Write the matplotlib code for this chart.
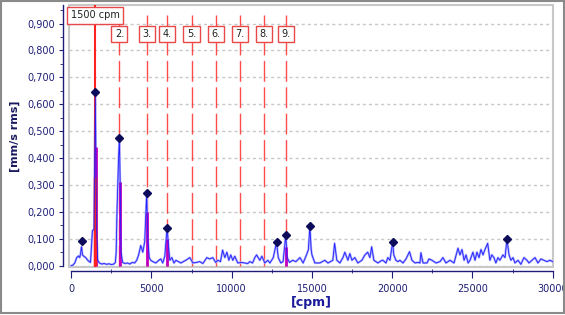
import numpy as np
import matplotlib
matplotlib.use("Agg")
import matplotlib.pyplot as plt
from matplotlib.patches import Rectangle
from matplotlib.ticker import MultipleLocator, FuncFormatter

# spectrum (cpm, mm/s rms)
freq_cpm = [0, 100, 220, 340, 450, 530, 580, 640, 700, 780, 900, 1030, 1120, 1200, 1320,
            1420, 1500, 1580, 1650, 1750, 1900, 2050, 2200, 2350, 2500, 2650, 2750, 2800,
            2850, 2950, 3000, 3050, 3100, 3200, 3350, 3500, 3650, 3800, 3950, 4080, 4200,
            4330, 4460, 4580, 4700, 4770, 4860, 4950, 5080, 5270, 5460, 5580, 5700, 5830,
            5973, 6050, 6140, 6270, 6400, 6520, 6830, 7140, 7390, 7580, 7800, 8010, 8200,
            8450, 8630, 8820, 9000, 9130, 9300, 9430, 9570, 9700, 9820, 9940, 10070, 10190,
            10380, 10600, 10820, 11000, 11130, 11300, 11440, 11550, 11750, 11880, 12060,
            12250, 12380, 12590, 12793, 12900, 13060, 13200, 13370, 13450, 13600, 13800,
            14000, 14250, 14450, 14660, 14780, 14870, 14950, 15000, 15180, 15490, 15800,
            16000, 16300, 16410, 16550, 16740, 16930, 17050, 17240, 17360, 17490, 17670,
            17860, 18110, 18300, 18470, 18610, 18720, 18860, 19110, 19360, 19420, 19610,
            19730, 19860, 20025, 20100, 20230, 20350, 20480, 20670, 20860, 21080, 21230,
            21420, 21600, 21730, 21790, 21920, 22170, 22290, 22480, 22730, 22980, 23160,
            23350, 23600, 23850, 24100, 24220, 24350, 24480, 24600, 24730, 24850, 25030,
            25160, 25280, 25410, 25530, 25660, 25780, 25950, 26090, 26210, 26340, 26460,
            26590, 26710, 26900, 27030, 27151, 27280, 27400, 27530, 27650, 27840, 28020,
            28210, 28400, 28520, 28710, 28900, 29080, 29270, 29460, 29640, 29830, 30000]
amp_mm_s = [0.000, 0.002, 0.010, 0.030, 0.036, 0.030, 0.045, 0.070, 0.040, 0.035, 0.030,
            0.020, 0.015, 0.012, 0.130, 0.135, 0.647, 0.130, 0.020, 0.010, 0.006, 0.008,
            0.005, 0.007, 0.004, 0.006, 0.012, 0.050, 0.200, 0.400, 0.474, 0.300, 0.050,
            0.012, 0.008, 0.010, 0.006, 0.012, 0.010, 0.020, 0.040, 0.075, 0.050, 0.090,
            0.269, 0.100, 0.030, 0.020, 0.015, 0.010, 0.020, 0.025, 0.010, 0.035, 0.141,
            0.080, 0.020, 0.030, 0.010, 0.020, 0.010, 0.020, 0.030, 0.010, 0.012, 0.015,
            0.008, 0.030, 0.025, 0.030, 0.012, 0.020, 0.015, 0.058, 0.030, 0.050, 0.020,
            0.040, 0.020, 0.035, 0.010, 0.012, 0.010, 0.008, 0.015, 0.010, 0.030, 0.040,
            0.020, 0.035, 0.010, 0.020, 0.010, 0.030, 0.087, 0.030, 0.010, 0.015, 0.113,
            0.030, 0.012, 0.020, 0.015, 0.030, 0.010, 0.040, 0.060, 0.148, 0.060, 0.040,
            0.010, 0.010, 0.020, 0.010, 0.020, 0.083, 0.020, 0.010, 0.030, 0.050, 0.020,
            0.045, 0.020, 0.030, 0.010, 0.020, 0.040, 0.050, 0.030, 0.070, 0.020, 0.010,
            0.020, 0.020, 0.010, 0.030, 0.020, 0.087, 0.040, 0.020, 0.015, 0.020, 0.010,
            0.025, 0.052, 0.020, 0.010, 0.012, 0.010, 0.048, 0.010, 0.010, 0.025, 0.020,
            0.010, 0.015, 0.030, 0.010, 0.020, 0.010, 0.065, 0.040, 0.060, 0.020, 0.040,
            0.010, 0.020, 0.050, 0.020, 0.050, 0.030, 0.060, 0.040, 0.060, 0.083, 0.020,
            0.040, 0.030, 0.010, 0.030, 0.020, 0.040, 0.030, 0.099, 0.040, 0.020, 0.030,
            0.010, 0.020, 0.005, 0.030, 0.020, 0.010, 0.020, 0.030, 0.010, 0.025, 0.020,
            0.015, 0.020, 0.015]

# marked peaks
peak_cpm = [640, 1500, 3000, 4700, 5973, 12793, 13370, 14870, 20025, 27151]
peak_amp = [0.092, 0.647, 0.474, 0.269, 0.141, 0.087, 0.113, 0.148, 0.087, 0.099]

# overlaid order bars
order_cpm = [1520, 3030, 4700, 5973, 13400]
order_amp = [0.44, 0.31, 0.20, 0.10, 0.07]

# harmonic cursors
base_cpm = 1500
base_label = "1500 cpm"
harm_cpm = [3000, 4700, 5973, 7494, 9009, 10524, 12020, 13373]
harm_labels = ["2.", "3.", "4.", "5.", "6.", "7.", "8.", "9."]

navy = "#1e1e78"
red = "#ff2020"

fig = plt.figure(figsize=(5.65, 3.15), dpi=100)
ax = fig.add_axes([69 / 565, 48 / 315, 484 / 565, 262 / 315])

ax.set_xlim(-140, 30020)
ax.set_ylim(-0.005, 0.969)

# grid
ax.yaxis.set_major_locator(MultipleLocator(0.1))
ax.yaxis.set_minor_locator(MultipleLocator(0.05))
ax.xaxis.set_major_locator(MultipleLocator(5000))
ax.xaxis.set_minor_locator(MultipleLocator(2500))
ax.grid(axis="y", which="major", color="#c8c8c8", lw=1, linestyle=(0, (2.2, 2.2)), zorder=0)
ax.set_axisbelow(True)

# spectrum
ax.plot(freq_cpm, amp_mm_s, color="#aaaaff", lw=1.6, zorder=3, solid_joinstyle="round")
ax.plot(freq_cpm, amp_mm_s, color="#2020ff", lw=0.6, zorder=4)
ax.vlines(order_cpm, 0, order_amp, color="#c000c0", lw=2, zorder=3.5)
ax.vlines([1500], 0, [0.33], color=red, lw=2.5, zorder=3.6)

# cursors
ax.axvline(base_cpm, color=red, lw=1.5, zorder=3.2)
ax.vlines(harm_cpm, 0, 0.93, color=red, lw=1, linestyle=(0, (15, 4)), alpha=0.8, zorder=2)

ax.plot(peak_cpm, peak_amp, linestyle="none", marker="D", ms=3.6, color="#0c0c5a", zorder=6)

box = dict(boxstyle="square,pad=0.35", fc="white", ec="#e84848", lw=1)
ax.text(base_cpm, 0.93, base_label, ha="center", va="center", fontsize=7,
        color="#202020", bbox=box, zorder=7)
for hx, lab in zip(harm_cpm, harm_labels):
    ax.text(hx, 0.861, lab, ha="center", va="center", fontsize=7,
            color="#202020", bbox=box, zorder=7)

# spines / axes
for s in ["top", "right"]:
    ax.spines[s].set_visible(False)
ax.spines["left"].set_position(("outward", 4.3))
ax.spines["bottom"].set_position(("outward", 3))
ax.spines["left"].set_bounds(0, 0.969)
ax.spines["bottom"].set_bounds(0, 30000)
for s in ["left", "bottom"]:
    ax.spines[s].set_color(navy)
    ax.spines[s].set_linewidth(1)

ax.tick_params(axis="y", which="major", length=3, color=navy, labelcolor=navy,
               labelsize=7, pad=3)
ax.tick_params(axis="y", which="minor", length=2, color=navy)
ax.tick_params(axis="x", which="major", length=5, color=navy, labelcolor=navy,
               labelsize=7, pad=4, direction="out")
ax.tick_params(axis="x", which="minor", length=3, color=navy, direction="inout")
ax.yaxis.set_major_formatter(FuncFormatter(lambda v, p: ("%.3f" % v).replace(".", ",")))
ax.xaxis.set_major_formatter(FuncFormatter(lambda v, p: "%d" % v))

ax.set_xlabel("[cpm]", fontsize=9, fontweight="bold", color="#1a1a9a", labelpad=2)
ax.set_ylabel("[mm/s rms]", fontsize=8, fontweight="bold", color="#1a1a60", labelpad=5)

# plot area frame
ax.add_patch(Rectangle((0, 0), 1, 1, transform=ax.transAxes, fill=False,
                       ec="#c8c8c8", lw=1.5, clip_on=False, zorder=1))

# outer border
fig.patches.append(Rectangle((1 / 565, 2 / 315), 562.5 / 565, 312 / 315,
                             transform=fig.transFigure, fill=False,
                             ec="#8a8a8a", lw=1.5))

fig.savefig("out.png", dpi=100)
